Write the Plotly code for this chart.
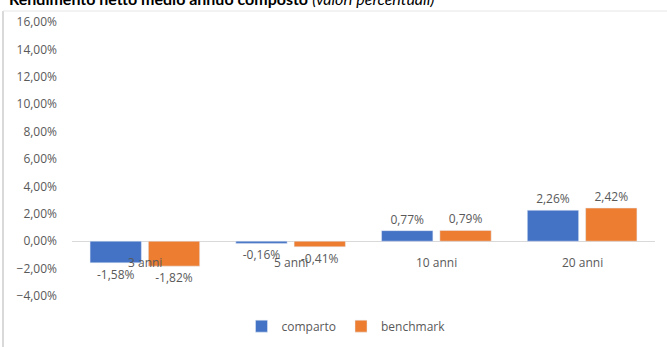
import plotly.graph_objects as go

categories = ["3 anni", "5 anni", "10 anni", "20 anni"]
comparto = [-1.58, -0.16, 0.77, 2.26]
benchmark = [-1.82, -0.41, 0.79, 2.42]

font_family = "Open Sans, sans-serif"
grey_text = "#595959"

fig = go.Figure()
fig.add_trace(go.Bar(
    x=categories, y=comparto, name="comparto",
    marker_color="#4472C4",
    texttemplate="%{y:.2f}%", textposition="outside",
    textfont=dict(size=12, color=grey_text), cliponaxis=False,
))
fig.add_trace(go.Bar(
    x=categories, y=benchmark, name="benchmark",
    marker_color="#ED7D31",
    texttemplate="%{y:.2f}%", textposition="outside",
    textfont=dict(size=12, color=grey_text), cliponaxis=False,
))

# category labels sit on the zero line, like the original
annotations = [
    dict(x=c, y=0, xref="x", yref="y", text=c, showarrow=False,
         yshift=-21, font=dict(size=12, color=grey_text))
    for c in categories
]
# title, cut off at the top of the image
annotations.append(dict(
    x=0, y=1, xref="paper", yref="paper", xanchor="left", yanchor="bottom",
    xshift=-65, yshift=12, showarrow=False,
    text="<b>Rendimento netto medio annuo composto</b> <i>(valori percentuali)</i>",
    font=dict(family="Lato, sans-serif", size=16, color="#000000"),
))

fig.update_layout(
    width=667, height=347,
    margin=dict(l=72, r=12, t=22, b=51, autoexpand=False),
    paper_bgcolor="white", plot_bgcolor="white",
    font=dict(family=font_family, size=12, color=grey_text),
    separators=",.",
    barmode="group", bargap=0.2, bargroupgap=0.12,
    showlegend=True,
    legend=dict(orientation="h", x=0.47, xanchor="center", y=-0.11, yanchor="middle",
                itemwidth=30, font=dict(size=12, color=grey_text)),
    annotations=annotations,
    shapes=[
        # outer frame (left and top edges)
        dict(type="line", xref="paper", yref="paper", xsizemode="pixel", ysizemode="pixel",
             xanchor=0, yanchor=1, x0=-69, x1=-69, y0=11, y1=-400,
             line=dict(color="#d9d9d9", width=2)),
        dict(type="line", xref="paper", yref="paper", xsizemode="pixel", ysizemode="pixel",
             xanchor=0, yanchor=1, x0=-69, x1=700, y0=11, y1=11,
             line=dict(color="#e6e6e6", width=1)),
    ],
)
fig.update_xaxes(showticklabels=False, showline=False, showgrid=False, zeroline=False,
                 automargin=False)
fig.update_yaxes(range=[-4, 16], dtick=2, tickformat=".2f", ticksuffix="%",
                 showgrid=False, zeroline=True, zerolinecolor="#d9d9d9", zerolinewidth=1,
                 ticks="", ticklabelstandoff=14,
                 tickfont=dict(size=12, color=grey_text), automargin=False)

fig.write_html("out.html", config={"displayModeBar": False},
               post_script="document.body.style.margin='0';")
